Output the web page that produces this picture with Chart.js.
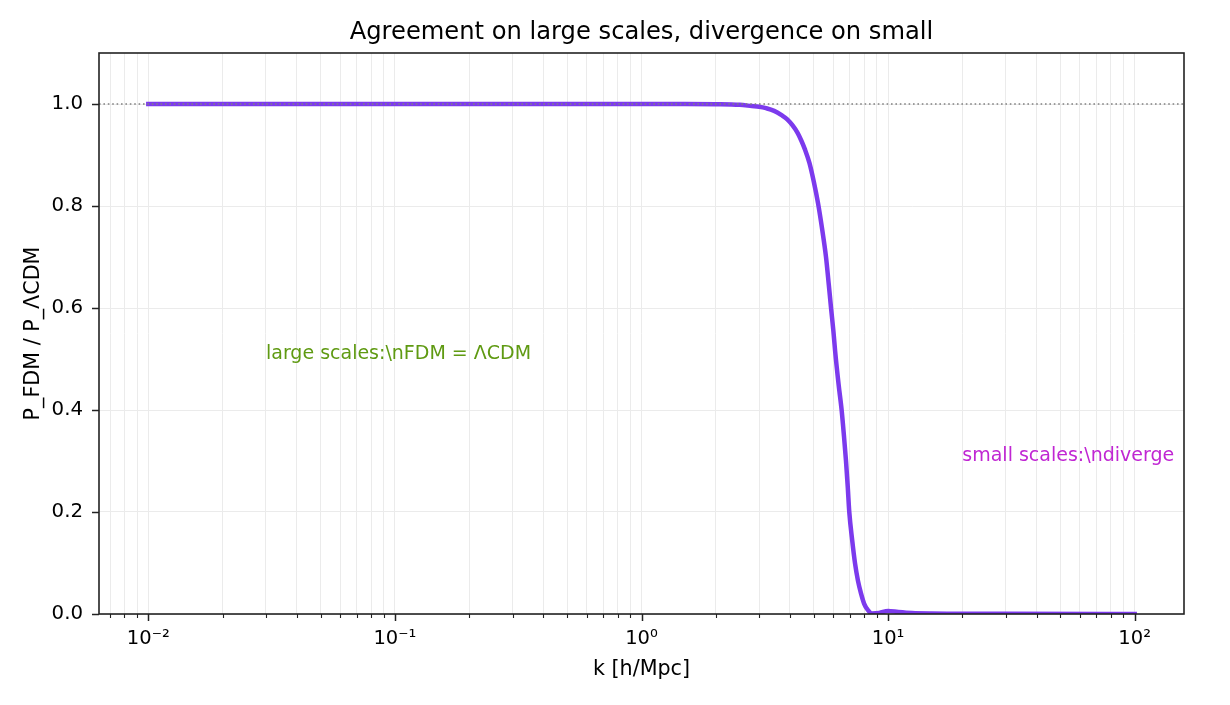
<!DOCTYPE html>
<html>
<head>
<meta charset="utf-8">
<script src="https://cdn.jsdelivr.net/npm/chart.js@4/dist/chart.umd.min.js"></script>
<style>
  html, body { margin: 0; padding: 0; background: #ffffff; }
  #wrap { width: 1230px; height: 705px; }
</style>
</head>
<body>
<div id="wrap"><canvas id="c" width="1230" height="705"></canvas></div>
<script>
// ---- data ----
const kValues = [0.01, 0.1, 1, 1.5, 2, 2.5, 2.8, 3.0, 3.2, 3.45, 3.7, 3.9, 4.1, 4.3, 4.45, 4.6, 4.8, 5.0, 5.2, 5.4, 5.6, 5.75, 5.87, 6.0, 6.1, 6.3, 6.48, 6.62, 6.75, 6.86, 6.96, 7.15, 7.34, 7.55, 7.77, 8.0, 8.27, 8.6, 9.2, 10, 11, 12.5, 15, 20, 30, 100];
const ratioValues = [1, 1, 1, 1, 0.9996, 0.9983, 0.996, 0.9946, 0.9918, 0.9866, 0.978, 0.970, 0.958, 0.943, 0.928, 0.911, 0.884, 0.847, 0.805, 0.755, 0.70, 0.645, 0.60, 0.555, 0.515, 0.45, 0.40, 0.35, 0.30, 0.25, 0.20, 0.145, 0.10, 0.065, 0.04, 0.02, 0.008, 0.001, 0.002, 0.006, 0.004, 0.002, 0.001, 0.0006, 0.0003, 0];
const xMajorTicks = [0.01, 0.1, 1, 10, 100];
const xTickLabels = ['10\u207B\u00B2', '10\u207B\u00B9', '10\u2070', '10\u00B9', '10\u00B2'];
const xMinorTicks = [0.007, 0.008, 0.009, 0.02, 0.03, 0.04, 0.05, 0.06, 0.07, 0.08, 0.09, 0.2, 0.3, 0.4, 0.5, 0.6, 0.7, 0.8, 0.9, 2, 3, 4, 5, 6, 7, 8, 9, 20, 30, 40, 50, 60, 70, 80, 90];
const yTicks = [0, 0.2, 0.4, 0.6, 0.8, 1.0];
const referenceLevel = 1.0;
const titleText = 'Agreement on large scales, divergence on small';
const xAxisTitle = 'k [h/Mpc]';
const yAxisTitle = 'P_FDM / P_\u039BCDM';
const annotations = [
  { x: 0.03, y: 0.5, text: 'large scales:\\nFDM = \u039BCDM', color: '#5f9a12' },
  { x: 20, y: 0.3, text: 'small scales:\\ndiverge', color: '#c026d3' }
];

const FONT = '"DejaVu Sans", Verdana, sans-serif';

const decorPlugin = {
  id: 'decor',
  afterDatasetsDraw(chart) {
    const { ctx, chartArea: a, scales: { x, y } } = chart;
    // dotted reference line at ratio = 1
    ctx.save();
    ctx.strokeStyle = '#808080';
    ctx.lineWidth = 1.6;
    ctx.setLineDash([1.6, 2.8]);
    const yp = y.getPixelForValue(referenceLevel);
    ctx.beginPath();
    ctx.moveTo(a.left, yp);
    ctx.lineTo(a.right, yp);
    ctx.stroke();
    ctx.restore();
    // text annotations
    ctx.save();
    ctx.font = '19px ' + FONT;
    ctx.textAlign = 'left';
    ctx.textBaseline = 'alphabetic';
    annotations.forEach(t => {
      ctx.fillStyle = t.color;
      ctx.fillText(t.text, x.getPixelForValue(t.x), y.getPixelForValue(t.y));
    });
    ctx.restore();
  },
  afterDraw(chart) {
    const { ctx, chartArea: a, scales: { x, y } } = chart;
    ctx.save();
    ctx.strokeStyle = '#222222';
    // tick marks
    ctx.lineWidth = 1.5;
    xMajorTicks.forEach(v => {
      const p = Math.round(x.getPixelForValue(v)) + 0.5;
      ctx.beginPath(); ctx.moveTo(p, a.bottom); ctx.lineTo(p, a.bottom + 7); ctx.stroke();
    });
    yTicks.forEach(v => {
      const p = Math.round(y.getPixelForValue(v)) + 0.5;
      ctx.beginPath(); ctx.moveTo(a.left, p); ctx.lineTo(a.left - 7, p); ctx.stroke();
    });
    ctx.lineWidth = 1.1;
    xMinorTicks.forEach(v => {
      const p = Math.round(x.getPixelForValue(v)) + 0.5;
      ctx.beginPath(); ctx.moveTo(p, a.bottom); ctx.lineTo(p, a.bottom + 4); ctx.stroke();
    });
    // frame
    ctx.lineWidth = 1.6;
    ctx.strokeRect(a.left, a.top, a.right - a.left, a.bottom - a.top);
    // title
    ctx.fillStyle = '#000000';
    ctx.font = '24.2px ' + FONT;
    ctx.textAlign = 'center';
    ctx.textBaseline = 'middle';
    ctx.fillText(titleText, (a.left + a.right) / 2, 33);
    ctx.restore();
  }
};

new Chart(document.getElementById('c'), {
  type: 'line',
  data: {
    datasets: [{
      data: kValues.map((k, i) => ({ x: k, y: ratioValues[i] })),
      borderColor: '#7c3aed',
      borderWidth: 4.5,
      borderCapStyle: 'square',
      borderJoinStyle: 'round',
      pointRadius: 0,
      cubicInterpolationMode: 'monotone',
      fill: false
    }]
  },
  options: {
    responsive: false,
    animation: false,
    devicePixelRatio: 1,
    layout: { padding: { top: 53, right: 46, left: 0, bottom: 0 } },
    plugins: { legend: { display: false }, tooltip: { enabled: false }, title: { display: false } },
    scales: {
      x: {
        type: 'logarithmic',
        min: Math.pow(10, -2.2),
        max: Math.pow(10, 2.2),
        afterBuildTicks(scale) {
          scale.ticks = xMajorTicks.concat(xMinorTicks).sort((p, q) => p - q).map(v => ({ value: v, major: xMajorTicks.includes(v) }));
        },
        afterFit(scale) { scale.height = 91; },
        grid: { color: '#ebebeb', lineWidth: 1, drawTicks: false },
        border: { display: false },
        ticks: {
          autoSkip: false,
          maxRotation: 0,
          padding: 13,
          color: '#000000',
          font: { family: FONT, size: 19.5 },
          callback(v) {
            const i = xMajorTicks.findIndex(m => Math.abs(m - v) / m < 1e-6);
            return i >= 0 ? xTickLabels[i] : '';
          }
        },
        title: {
          display: true,
          text: xAxisTitle,
          color: '#000000',
          font: { family: FONT, size: 20.7 },
          padding: { top: 0, bottom: 23 }
        }
      },
      y: {
        type: 'linear',
        min: 0,
        max: 1.1,
        afterBuildTicks(scale) { scale.ticks = yTicks.map(v => ({ value: v })); },
        afterFit(scale) { scale.width = 99; },
        grid: { color: '#ebebeb', lineWidth: 1, drawTicks: false },
        border: { display: false },
        ticks: {
          padding: 16,
          color: '#000000',
          font: { family: FONT, size: 19.8 },
          callback(v) { return Number(v).toFixed(1); }
        },
        title: {
          display: true,
          text: yAxisTitle,
          color: '#000000',
          font: { family: FONT, size: 20.7 },
          padding: { top: 21, bottom: 0 }
        }
      }
    }
  },
  plugins: [decorPlugin]
});
</script>
</body>
</html>
